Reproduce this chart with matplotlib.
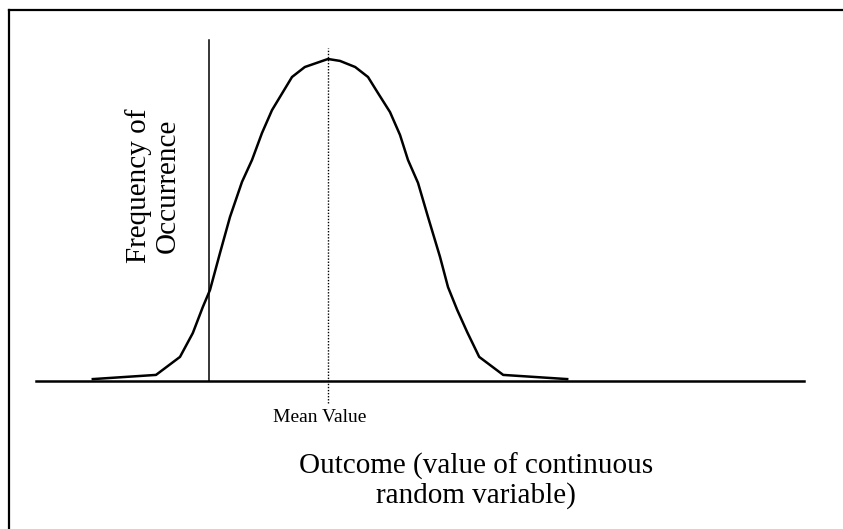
import matplotlib
matplotlib.use("Agg")
import matplotlib.pyplot as plt
from matplotlib.lines import Line2D

plt.rcParams['font.family'] = ['Liberation Serif', 'DejaVu Serif']

# outcome (mean at 0) and relative frequency
outcome = [-5.88, -4.30, -3.70, -3.38, -3.13, -2.95, -2.70, -2.45, -2.15, -1.90,
           -1.65, -1.40, -0.90, -0.58, 0.00, 0.30, 0.68, 1.00, 1.25, 1.55,
           1.80, 2.00, 2.25, 2.50, 2.80, 3.00, 3.23, 3.48, 3.78, 4.38, 5.98]
frequency = [0.005, 0.018, 0.074, 0.148, 0.229, 0.282, 0.397, 0.509, 0.618, 0.686,
             0.770, 0.841, 0.944, 0.975, 1.000, 0.994, 0.975, 0.944, 0.894, 0.835,
             0.764, 0.686, 0.615, 0.509, 0.385, 0.291, 0.220, 0.151, 0.074, 0.018, 0.005]

mean_value = 0.0
y_axis_at = -2.98
x_range = (-7.3, 11.9)
y_range = (0, 1.059)

W, H = 843, 529
fig = plt.figure(figsize=(W / 100, H / 100), dpi=100)
ax = fig.add_axes([36 / W, 1 - 380.7 / H, (804 - 36) / W, (380.7 - 40) / H])
ax.set_xlim(*x_range)
ax.set_ylim(*y_range)
ax.axis('off')

# frame (top and left edges only)
fig.add_artist(Line2D([9 / W, 1], [1 - 10 / H, 1 - 10 / H], color='black', lw=1.6))
fig.add_artist(Line2D([9 / W, 9 / W], [0, 1 - 10 / H], color='black', lw=1.6))

# horizontal axis and frequency axis
ax.axhline(0, color='black', lw=1.8, clip_on=False)
ax.plot([y_axis_at, y_axis_at], [0, y_range[1]], color='black', lw=1.1, clip_on=False)

# distribution curve
ax.plot(outcome, frequency, color='black', lw=1.8, solid_joinstyle='round', clip_on=False)

# mean line
ax.plot([mean_value, mean_value], [-0.069, 1.035], color='black', lw=1.0,
        linestyle=(0, (1, 1.2)), clip_on=False)

ax.text(mean_value - 0.2, -0.128, "Mean Value", ha='center', va='baseline', fontsize=14)
fig.text(476 / W, 1 - 481 / H, "Outcome (value of continuous\nrandom variable)",
         ha='center', va='center', fontsize=21, linespacing=1.1)
fig.text(153 / W, 1 - 186 / H, "Frequency of\nOccurrence", ha='center', va='center',
         rotation=90, fontsize=21, linespacing=1.1)

fig.savefig("out.png", dpi=100)
